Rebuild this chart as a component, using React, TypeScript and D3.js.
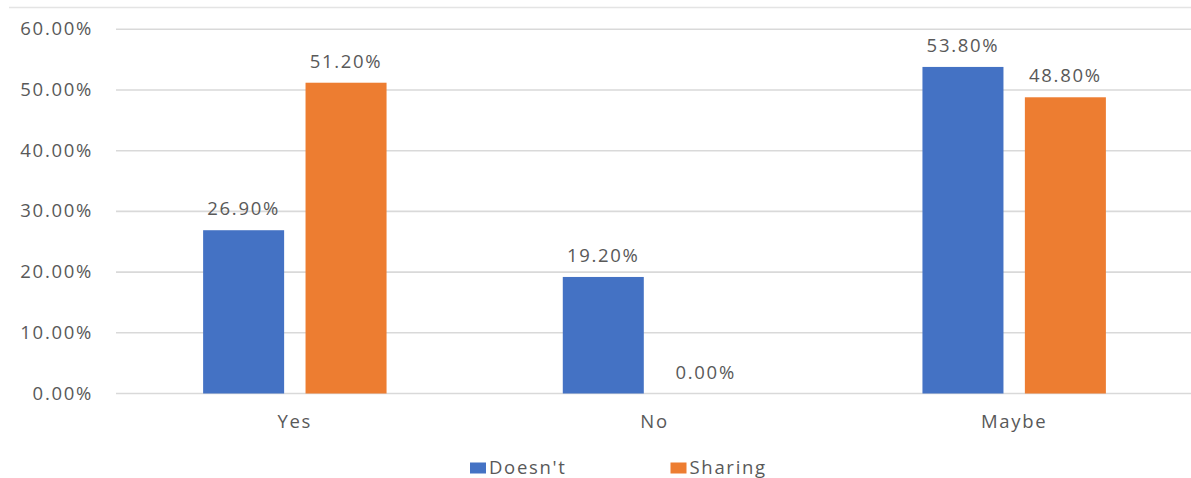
import React from "react";
import * as d3 from "d3";

const categories = ["Yes", "No", "Maybe"];
const seriesNames = ["Doesn't", "Sharing"];
const doesntValues = [0.269, 0.192, 0.538];
const sharingValues = [0.512, 0.0, 0.488];
const yTicks = [0, 0.1, 0.2, 0.3, 0.4, 0.5, 0.6];
const colors = ["#4472C4", "#ED7D31"];

const W = 1191;
const H = 478;
const FONT = "'Open Sans', 'Noto Sans', sans-serif";
const TEXT = "#595959";

export default function App() {
  const x0 = d3
    .scaleBand<string>()
    .domain(categories)
    .range([115, 1194])
    .paddingInner(0.49)
    .paddingOuter(0.245);
  const x1 = d3
    .scaleBand<number>()
    .domain([0, 1])
    .range([0, x0.bandwidth()])
    .paddingInner(0.209)
    .paddingOuter(0);
  const y = d3.scaleLinear().domain([0, 0.6]).range([393.5, 29.3]);
  const pct = d3.format(".2%");
  const series = [doesntValues, sharingValues];

  const textStyle = { fontFamily: FONT, fontSize: 18.5, letterSpacing: 1.7, fill: TEXT } as const;

  return (
    <svg
      width={W}
      height={H}
      style={{ position: "absolute", left: 0, top: 0, background: "#fff" }}
    >
      <rect x={0} y={0} width={W} height={H} fill="#fff" />
      {/* chart frame top edge */}
      <line x1={9} x2={W} y1={7.5} y2={7.5} stroke="#e4e4e4" strokeWidth={1.5} />

      {/* gridlines and y tick labels */}
      {yTicks.map((t) => (
        <g key={t}>
          <line x1={116} x2={W} y1={y(t)} y2={y(t)} stroke="#d9d9d9" strokeWidth={1.6} />
          <text x={93} y={y(t) + 6} textAnchor="end" {...textStyle}>
            {pct(t)}
          </text>
        </g>
      ))}

      {/* bars and value labels */}
      {categories.map((c, ci) => (
        <g key={c} transform={`translate(${x0(c)},0)`}>
          {series.map((vals, si) => {
            const v = vals[ci];
            const bx = x1(si)!;
            const bw = x1.bandwidth();
            return (
              <g key={si}>
                {v > 0 && (
                  <rect x={bx} y={y(v)} width={bw} height={y(0) - y(v)} fill={colors[si]} />
                )}
                <text
                  x={bx + bw / 2}
                  y={y(v) - 15}
                  textAnchor="middle"
                  {...textStyle}
                >
                  {pct(v)}
                </text>
              </g>
            );
          })}
          <text x={x0.bandwidth() / 2} y={427.5} textAnchor="middle" {...textStyle}>
            {c}
          </text>
        </g>
      ))}

      {/* legend */}
      {seriesNames.map((name, i) => {
        const lx = [470, 670.5][i];
        return (
          <g key={name}>
            <rect x={lx} y={462.5} width={16} height={11} fill={colors[i]} />
            <text x={lx + 19} y={474} {...textStyle}>
              {name}
            </text>
          </g>
        );
      })}
    </svg>
  );
}
